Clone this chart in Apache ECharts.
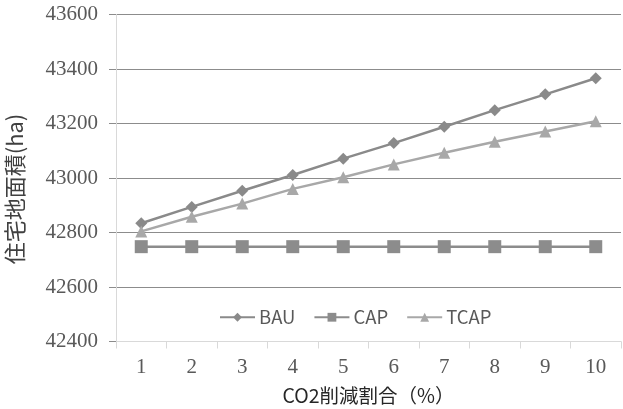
<!DOCTYPE html>
<html>
<head>
<meta charset="utf-8">
<script src="https://cdn.jsdelivr.net/npm/echarts@6/dist/echarts.min.js"></script>
<style>
  html, body { margin: 0; padding: 0; background: #fff; }
  #chart { width: 623px; height: 409px; }
</style>
</head>
<body>
<div id="chart"></div>
<script>
// CO2 reduction rate (%) on the x axis
const categories = ['1', '2', '3', '4', '5', '6', '7', '8', '9', '10'];

// Residential land area (ha) for each scenario
const bau  = [42834, 42894, 42953, 43011, 43071, 43128, 43188, 43249, 43307, 43366];
const cap  = [42748, 42748, 42748, 42748, 42748, 42748, 42748, 42748, 42748, 42748];
const tcap = [42804, 42858, 42906, 42960, 43003, 43050, 43093, 43133, 43171, 43208];

const yTicks = { min: 42400, max: 43600, step: 200 };

const chart = echarts.init(document.getElementById('chart'), null, { renderer: 'canvas' });

const serif = '"Liberation Serif", "DejaVu Serif", serif';
const sans = '"Noto Sans CJK JP", "Noto Sans", sans-serif';

function lineSeries(name, data, color, symbol, size) {
  return {
    name: name,
    type: 'line',
    data: data,
    symbol: symbol,
    symbolSize: size,
    showSymbol: true,
    lineStyle: { color: color, width: 2.5 },
    itemStyle: { color: color },
    emphasis: { disabled: true },
    animation: false
  };
}

chart.setOption({
  backgroundColor: '#ffffff',
  animation: false,
  grid: { left: 116, right: 2, top: 14.5, bottom: 67.5, containLabel: false, outerBoundsMode: 'none' },
  legend: {
    data: ['BAU', 'CAP', 'TCAP'],
    left: 214,
    top: 303,
    itemWidth: 35,
    itemHeight: 11,
    itemGap: 18,
    textStyle: { fontFamily: sans, fontSize: 18.5, color: '#595959', padding: [0, 0, 0, -1] }
  },
  // vertical axis title, drawn bottom-to-top
  graphic: [{
    type: 'text',
    x: 15,
    y: 189,
    rotation: Math.PI / 2,
    style: {
      text: '住宅地面積(ha)',
      fontFamily: sans,
      fontSize: 22,
      fill: '#404040',
      align: 'center',
      verticalAlign: 'middle'
    }
  }],
  xAxis: {
    type: 'category',
    data: categories,
    boundaryGap: true,
    name: 'CO2削減割合（%）',
    nameLocation: 'middle',
    nameGap: 44,
    nameTextStyle: { fontFamily: sans, fontSize: 19.5, color: '#262626' },
    axisLine: { show: true, lineStyle: { color: '#d9d9d9', width: 1 } },
    axisTick: { show: true, alignWithLabel: false, length: 7, lineStyle: { color: '#d9d9d9' } },
    axisLabel: { fontFamily: serif, fontSize: 21, color: '#595959', margin: 15 },
    splitLine: { show: false }
  },
  yAxis: {
    type: 'value',
    min: yTicks.min,
    max: yTicks.max,
    interval: yTicks.step,
    axisLine: { show: true, lineStyle: { color: '#d9d9d9', width: 1 } },
    axisTick: { show: true, length: 7, lineStyle: { color: '#8c8c8c' } },
    axisLabel: { fontFamily: serif, fontSize: 21, color: '#595959', margin: 18, formatter: v => String(v) },
    splitLine: { show: true, lineStyle: { color: '#8c8c8c', width: 1 } }
  },
  series: [
    lineSeries('BAU', bau, '#8a8a8a', 'diamond', 12),
    lineSeries('CAP', cap, '#8c8c8c', 'rect', 13),
    lineSeries('TCAP', tcap, '#a8a8a8', 'triangle', 12)
  ]
});
</script>
</body>
</html>
